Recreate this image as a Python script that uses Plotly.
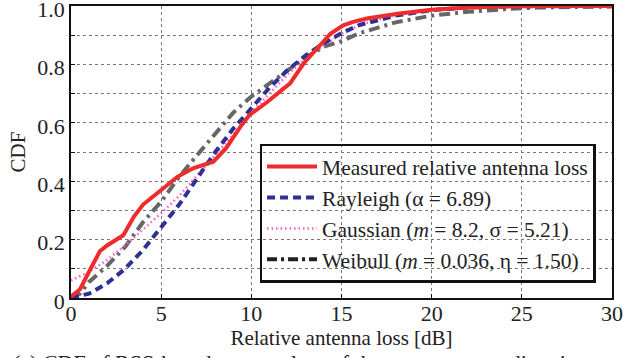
import plotly.graph_objects as go

# Measured relative antenna loss
meas_x = [0, 0.5, 1.0, 1.6, 2.0, 2.9, 3.5, 4.0, 5.0, 5.9, 6.8, 7.9, 8.6, 9.4, 9.9,
          10.9, 11.8, 12.15, 12.9, 13.6, 14.4, 15.1, 15.6, 16.4, 18.2, 20.0, 22.0, 24.0, 26.0, 30.0]
meas_y = [0.005, 0.03, 0.09, 0.16, 0.18, 0.215, 0.28, 0.32, 0.37, 0.415, 0.445, 0.467, 0.513, 0.587, 0.627,
          0.672, 0.718, 0.735, 0.803, 0.849, 0.906, 0.934, 0.945, 0.957, 0.974, 0.987, 0.995, 0.998, 1.0, 1.0]

fit_x = [0, 1, 2, 3, 4, 5, 6, 7, 8, 9, 10, 11, 12, 13, 14, 15, 16, 18, 20, 22, 25, 30]
rayleigh_y = [0.0, 0.015, 0.05, 0.10, 0.165, 0.24, 0.32, 0.41, 0.50, 0.58, 0.65, 0.72, 0.78, 0.83,
              0.872, 0.907, 0.935, 0.967, 0.986, 0.995, 0.999, 1.0]
gauss_y = [0.06, 0.09, 0.13, 0.18, 0.235, 0.29, 0.35, 0.42, 0.49, 0.56, 0.635, 0.70, 0.765, 0.82,
           0.865, 0.905, 0.935, 0.97, 0.988, 0.996, 0.999, 1.0]

weib_x = [0, 0.5, 1, 2, 3, 4, 5, 6, 7, 8, 9, 10, 11, 12, 13, 14, 15, 16, 18, 20, 22, 24, 26, 30]
weib_y = [0.0, 0.015, 0.055, 0.11, 0.175, 0.26, 0.33, 0.415, 0.49, 0.56, 0.635, 0.69, 0.735, 0.78,
          0.823, 0.86, 0.88, 0.907, 0.944, 0.967, 0.98, 0.989, 0.995, 0.998]

names = ["Measured relative antenna loss",
         "Rayleigh (α = 6.89)",
         "Gaussian (<i>m</i> = 8.2, σ = 5.21)",
         "Weibull (<i>m</i> = 0.036, η = 1.50)"]

x_ticks = [0, 5, 10, 15, 20, 25, 30]
y_ticks = [0, 0.1, 0.2, 0.3, 0.4, 0.5, 0.6, 0.7, 0.8, 0.9, 1.0]
y_text = ["0", "", "0.2", "", "0.4", "", "0.6", "", "0.8", "", "1.0"]

FONT = "Liberation Serif"
TXT = "#222"

fig = go.Figure()
fig.add_trace(go.Scatter(x=weib_x, y=weib_y, mode="lines", name=names[3],
                         line=dict(color="#666666", width=4, dash="11px,5px,3px,5px"), showlegend=False))
fig.add_trace(go.Scatter(x=fit_x, y=gauss_y, mode="lines", name=names[2],
                         line=dict(color="#ff5cc8", width=2.5, dash="1.5px,3px"), showlegend=False))
fig.add_trace(go.Scatter(x=fit_x, y=rayleigh_y, mode="lines", name=names[1],
                         line=dict(color="#2e3192", width=4, dash="8px,5px"), showlegend=False))
fig.add_trace(go.Scatter(x=meas_x, y=meas_y, mode="lines", name=names[0],
                         line=dict(color="#ee2c2c", width=4), showlegend=False))

# legend entries (in order)
leg_styles = [
    dict(color="#ee2c2c", width=4),
    dict(color="#2e3192", width=4, dash="8px,5px"),
    dict(color="#ff5cc8", width=2.5, dash="1.5px,3px"),
    dict(color="#202020", width=4, dash="10px,4px,3px,4px"),
]
for nm, st in zip(names, leg_styles):
    fig.add_trace(go.Scatter(x=[None], y=[None], mode="lines", name=nm, line=st))

fig.update_layout(
    template="none",
    width=625, height=358,
    margin=dict(l=70.5, r=12.5, t=5.7, b=59.5),
    paper_bgcolor="white", plot_bgcolor="white",
    font=dict(family=FONT, size=20, color=TXT),
    legend=dict(x=0.9696, y=0.053, xanchor="right", yanchor="bottom",
                bgcolor="rgba(0,0,0,0)", bordercolor="#111", borderwidth=2.5,
                font=dict(family=FONT, size=21.5, color=TXT),
                itemwidth=50, tracegroupgap=0),
    xaxis=dict(range=[0, 30], tickvals=x_ticks, ticktext=[str(v) for v in x_ticks],
               tickfont=dict(family=FONT, size=22, color=TXT),
               showgrid=True, gridcolor="#777", griddash="dot", gridwidth=1,
               showline=True, linecolor="#111", linewidth=1.5, mirror=True,
               ticks="inside", ticklen=4, tickcolor="#111", zeroline=False,
               ticklabeloverflow="allow", ticklabelstandoff=-5,
               title=dict(text="Relative antenna loss [dB]", standoff=0,
                          font=dict(family=FONT, size=21, color=TXT))),
    yaxis=dict(range=[0, 1.0], tickvals=y_ticks, ticktext=y_text,
               tickfont=dict(family=FONT, size=22, color=TXT),
               showgrid=True, gridcolor="#777", griddash="dot", gridwidth=1,
               showline=True, linecolor="#111", linewidth=1.5, mirror=True,
               ticks="inside", ticklen=4, tickcolor="#111", zeroline=False,
               ticklabeloverflow="allow", ticklabelshift=3,
               title=dict(text="CDF", standoff=6, font=dict(family=FONT, size=21, color=TXT))),
)

fig.add_annotation(text="(a) CDF of RSS-based antenna loss of the measurement directions",
                   xref="paper", yref="paper", x=-0.11, y=-0.17, xanchor="left", yanchor="top",
                   showarrow=False, font=dict(family=FONT, size=22, color=TXT))

fig.write_html("out.html")
